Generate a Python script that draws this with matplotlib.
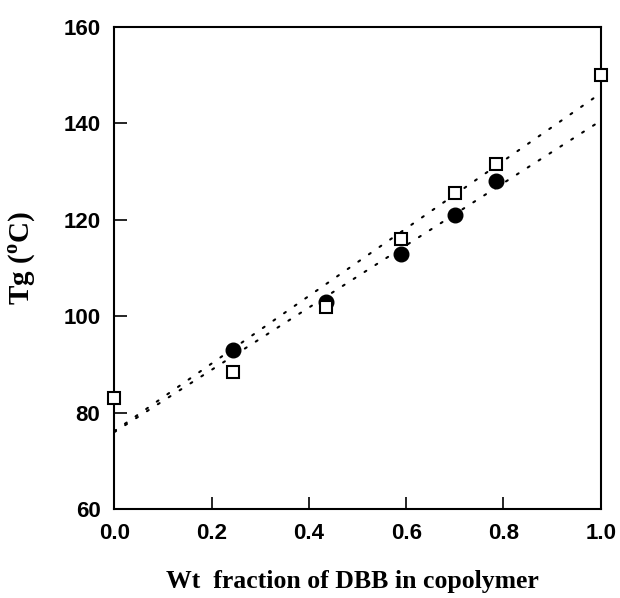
import matplotlib
matplotlib.use("Agg")
import matplotlib.pyplot as plt

# Tg data
wt_sq = [0.0, 0.245, 0.435, 0.59, 0.70, 0.785, 1.0]
tg_sq = [83, 88.5, 102, 116, 125.5, 131.5, 150]
wt_ci = [0.245, 0.435, 0.59, 0.70, 0.785]
tg_ci = [93, 103, 113, 121, 128]

# dotted fit lines (end values at x=0 and x=1)
fit_x = [0.0, 1.0]
fit_sq = [76.2, 146.2]
fit_ci = [76.0, 140.5]

plt.rcParams["mathtext.fontset"] = "custom"
plt.rcParams["mathtext.rm"] = "Liberation Serif:bold"

fig = plt.figure(figsize=(6.2, 5.98), dpi=100)
ax = fig.add_axes([0.1844, 0.1483, 0.7845, 0.8071])

dots = (0, (1, 5.2))
ax.plot(fit_x, fit_sq, color="black", lw=1.5, linestyle=dots, dash_capstyle="round")
ax.plot(fit_x, fit_ci, color="black", lw=1.5, linestyle=dots, dash_capstyle="round")

ax.plot(wt_ci, tg_ci, "o", ms=10.5, color="black", clip_on=False, zorder=3)
ax.plot(wt_sq, tg_sq, "s", ms=8, mfc="white", mec="black", mew=1.5,
        clip_on=False, zorder=4)

ax.set_xlim(0, 1.0)
ax.set_ylim(60, 160)
ax.set_xticks([0.0, 0.2, 0.4, 0.6, 0.8, 1.0])
ax.set_xticklabels(["0.0", "0.2", "0.4", "0.6", "0.8", "1.0"])
ax.set_yticks([60, 80, 100, 120, 140, 160])

ax.tick_params(direction="in", length=9, width=1.2, pad=10,
               top=False, right=False)
for lab in ax.get_xticklabels() + ax.get_yticklabels():
    lab.set_fontfamily("Liberation Sans")
    lab.set_fontweight("bold")
    lab.set_fontsize(16)

for sp in ax.spines.values():
    sp.set_linewidth(1.5)

ax.set_xlabel("Wt  fraction of DBB in copolymer", family="Liberation Serif",
              fontweight="bold", fontsize=18.5)
ax.set_ylabel(r"Tg ($^{\rm o}$C)", family="Liberation Serif",
              fontweight="bold", fontsize=21)
ax.xaxis.set_label_coords(0.49, -0.126)
ax.yaxis.set_label_coords(-0.157, 0.52)

fig.savefig("out.png", dpi=100)
